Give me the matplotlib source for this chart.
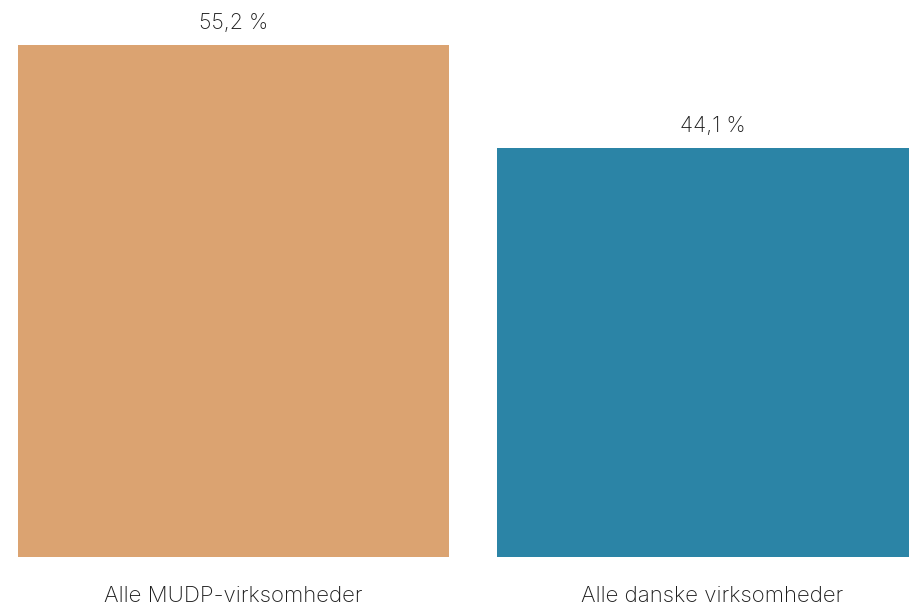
import matplotlib
matplotlib.use("Agg")
import matplotlib.pyplot as plt

# Data
categories = ['Alle MUDP-virksomheder', 'Alle danske virksomheder']
values = [55.2, 44.1]
value_labels = ['55,2 %', '44,1 %']
colors = ['#DBA371', '#2B84A6']

plt.rcParams['font.family'] = ['Inter', 'DejaVu Sans']
text_color = '#1c1c1c'

fig = plt.figure(figsize=(9.09, 6.07), dpi=100)
ax = fig.add_axes([0, 50 / 607, 1, 557 / 607])

x = list(range(len(categories)))
bars = ax.bar(x, values, width=0.9, color=colors)

for bar, lab in zip(bars, value_labels):
    ax.annotate(lab, (bar.get_x() + bar.get_width() / 2, bar.get_height()),
                xytext=(0, 11.5), textcoords='offset points',
                ha='center', va='baseline', fontsize=15.5, color=text_color,
                fontweight='light')

ax.set_xlim(-0.4875, 1.41)
ax.set_ylim(0, 60.1)
ax.set_xticks(x)
ax.set_xticklabels(categories, fontsize=16, color=text_color, fontweight='light')
ax.tick_params(axis='x', length=0, pad=21)
ax.set_yticks([])
for s in ax.spines.values():
    s.set_visible(False)

fig.savefig('out.png', dpi=100)
